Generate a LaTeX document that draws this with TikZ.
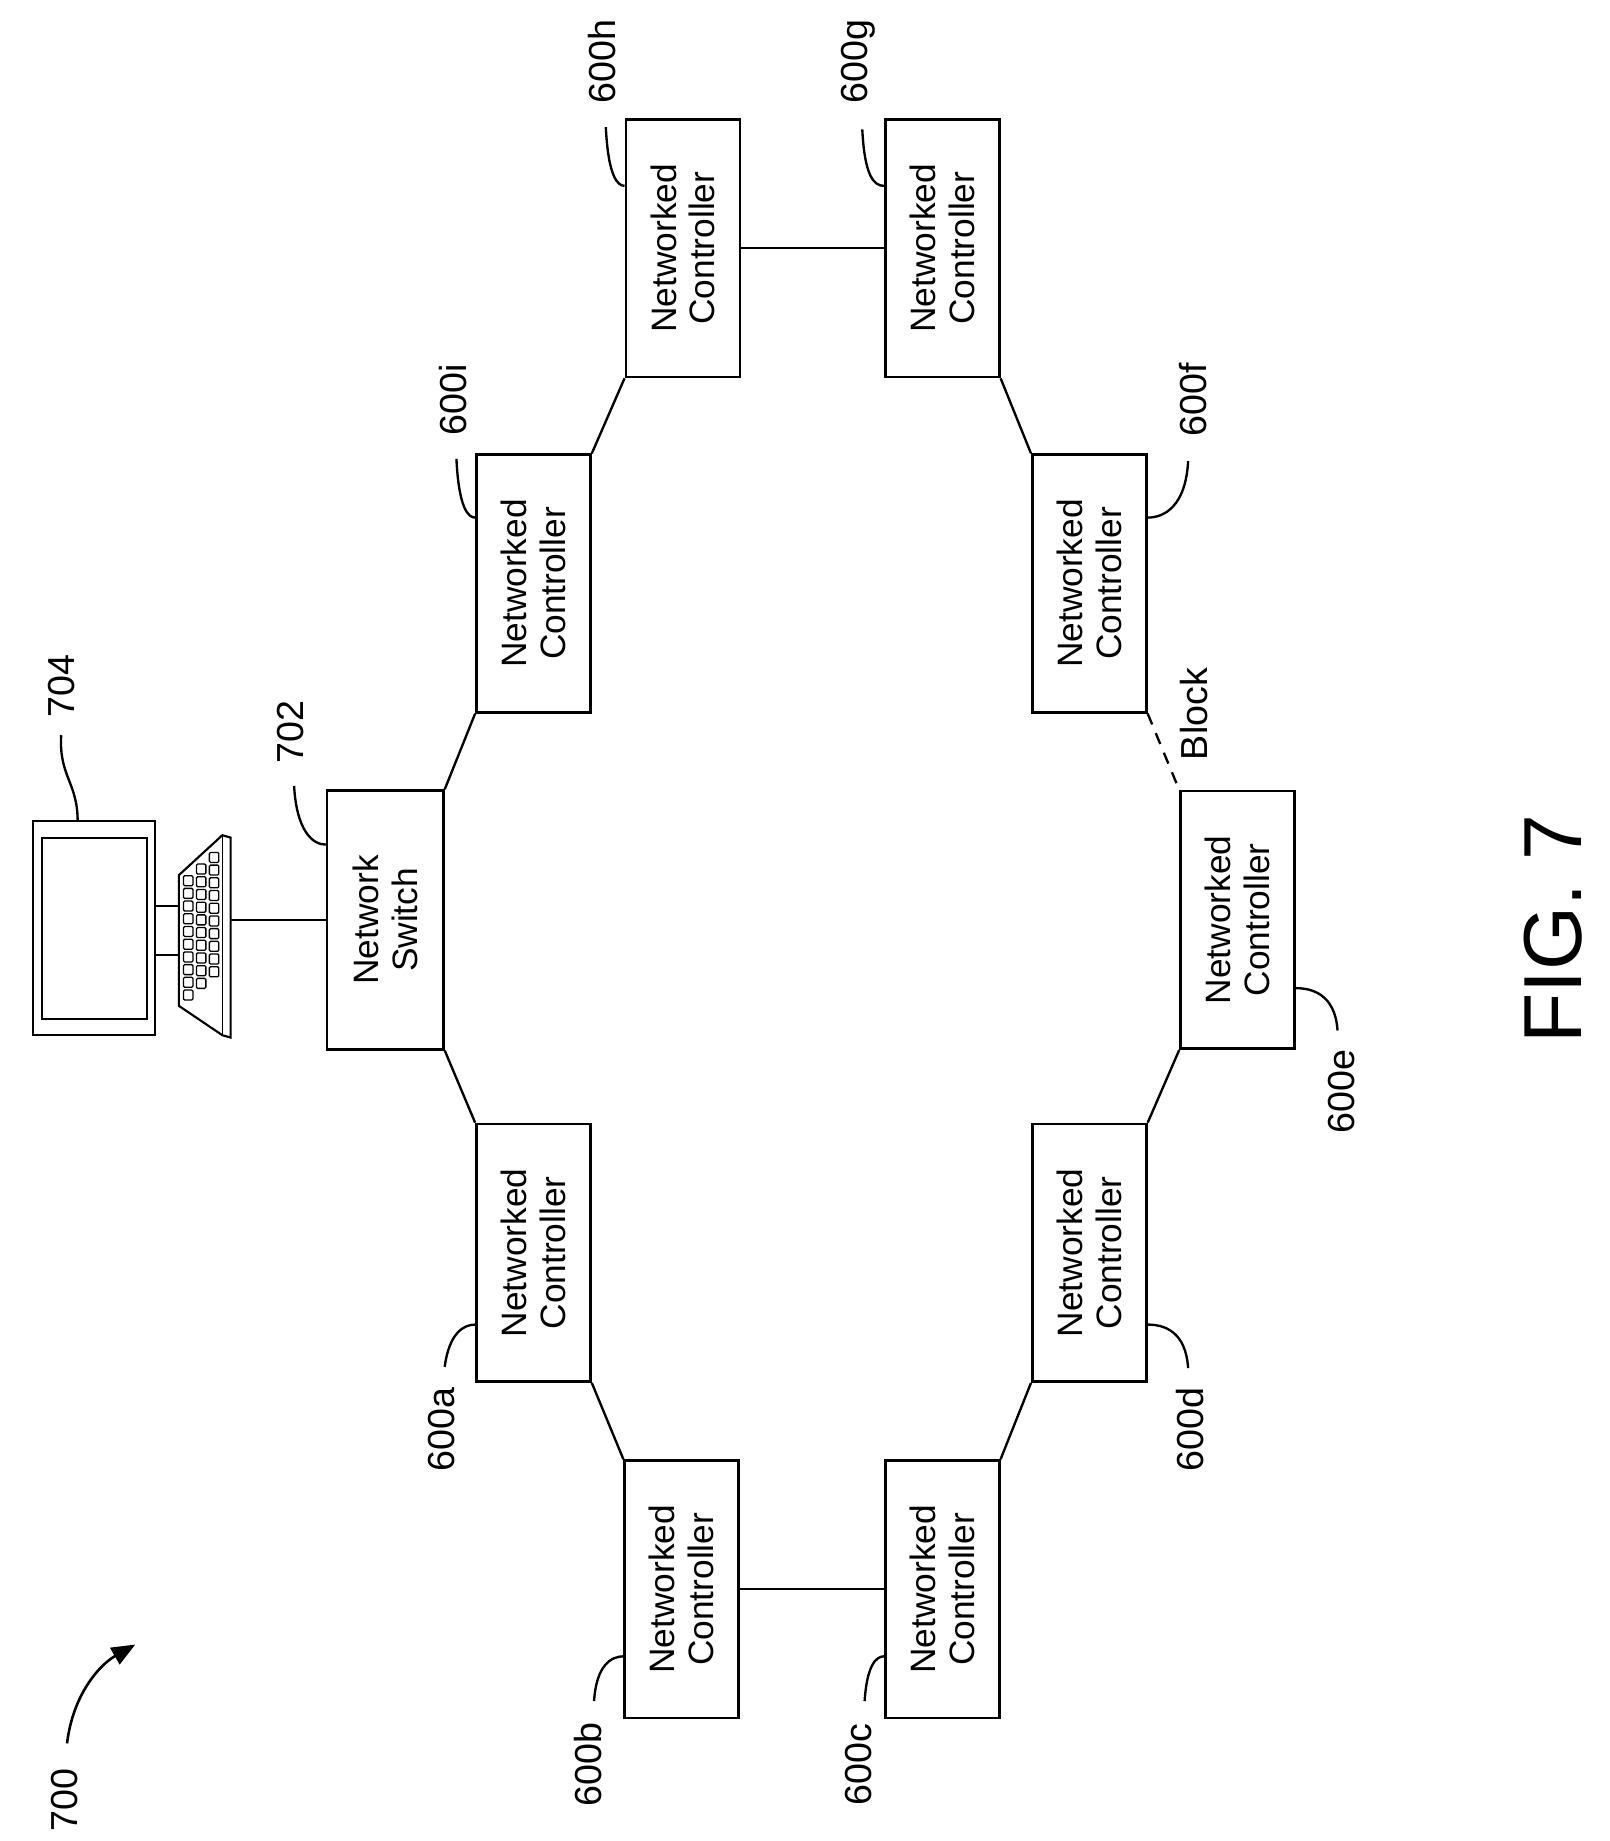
\documentclass[tikz,border=0pt]{standalone}
\usepackage{fontspec}
\setmainfont{Liberation Sans}
\usetikzlibrary{arrows.meta}
\begin{document}
\begin{tikzpicture}[x=1pt,y=-1pt,
  box/.style={draw,line width=2.2pt,minimum width=97pt,minimum height=219pt,inner sep=0pt},
  btxt/.style={rotate=90,font=\fontsize{30}{33}\selectfont,align=center},
  lbl/.style={rotate=90,font=\fontsize{32}{34}\selectfont,inner sep=1pt},
  ln/.style={line width=2pt},
  lead/.style={line width=2pt}]
\useasboundingbox (0,0) rectangle (1368,1565);
\newcommand{\nc}[3]{\node[box] (#1) at (#2,#3) {}; \node[btxt] at (#1) {Networked\\Controller};}
\node[box,minimum width=99pt,minimum height=220pt] (sw) at (327.5,782) {};
\node[btxt] at (sw) {Network\\Switch};
\nc{ci}{453.5}{496}
\nc{ch}{580.5}{211}
\nc{cg}{801}{211}
\nc{cf}{926}{496}
\nc{ce}{1052}{782}
\nc{cd}{926}{1065}
\nc{cc}{801}{1351}
\nc{cb}{579.5}{1351}
\nc{ca}{453.5}{1065}
\draw[ln] (sw.north east) -- (ci.south west);
\draw[ln] (ci.north east) -- (ch.south west);
\draw[ln] (ch.east) -- (cg.west);
\draw[ln] (cg.south east) -- (cf.north west);
\draw[ln,dash pattern=on 10pt off 8pt] (cf.south east) -- (ce.north west);
\draw[ln] (ce.south west) -- (cd.north east);
\draw[ln] (cd.south west) -- (cc.north east);
\draw[ln] (cc.west) -- (cb.east);
\draw[ln] (cb.north west) -- (ca.south east);
\draw[ln] (ca.north west) -- (sw.south east);
% labels
\node[lbl] (l8h) at (512,52) {600h};
\draw[lead] (515,108) .. controls (517,150) and (525,158) .. (ch.west|-0,158);
\node[lbl] (l8g) at (730,52) {600g};
\draw[lead] (733,110) .. controls (735,150) and (743,158) .. (cg.west|-0,158);
\node[lbl] (l8i) at (385,340) {600i};
\draw[lead] (388,390) .. controls (390,432) and (398,440) .. (ci.west|-0,440);
\node[lbl] (l8f) at (1014,340) {600f};
\draw[lead] (1010,392) .. controls (1008,430) and (990,440) .. (cf.east|-0,440);
\node[lbl] (l8e) at (1140,928) {600e};
\draw[lead] (1137,876) .. controls (1135,845) and (1115,840) .. (ce.east|-0,840);
\node[lbl] (l8d) at (1012,1215) {600d};
\draw[lead] (1010,1163) .. controls (1008,1132) and (990,1126) .. (cd.east|-0,1126);
\node[lbl] (l8c) at (730,1500) {600c};
\draw[lead] (735,1446) .. controls (737,1415) and (745,1408) .. (cc.west|-0,1408);
\node[lbl] (l8b) at (500,1500) {600b};
\draw[lead] (505,1446) .. controls (507,1415) and (520,1408) .. (cb.west|-0,1408);
\node[lbl] (l8a) at (375,1215) {600a};
\draw[lead] (378,1162) .. controls (382,1132) and (395,1126) .. (ca.west|-0,1126);
\node[lbl] (l702) at (247,622) {702};
\draw[lead] (250,668) .. controls (252,705) and (265,718) .. (sw.west|-0,718);
\node[lbl] (l704) at (52,583) {704};
\draw[lead] (52,625) .. controls (50,660) and (66,665) .. (66,698);
\node[lbl] (block) at (1015,607) {Block};
\node[lbl] (l700) at (55,1530) {700};
\draw[line width=2.2pt,-{Triangle[length=20pt,width=16pt]}] (57,1482) .. controls (62,1440) and (85,1415) .. (115,1398);
\node[rotate=90,font=\fontsize{70}{72}\selectfont] (fig) at (1320,790) {FIG. 7};
% computer
\draw[line width=1.8pt] (28,698) rectangle (132,880);
\draw[line width=1.8pt] (36,712) rectangle (125,866);
\draw[line width=1.5pt] (132,770) -- (152,770);
\draw[line width=1.5pt] (132,812) -- (152,812);
\draw[ln] (196,782) -- (sw.west);
\coordinate (k1) at (152,744); \coordinate (k2) at (189,710);
\coordinate (k3) at (189,880); \coordinate (k4) at (152,855);
\draw[line width=1.8pt] (k1) -- (k2) -- (196,712) -- (196,882) -- (k3) -- (k4) -- cycle;
\draw[line width=1.3pt] (k2) -- (k3);
\foreach \i in {0,...,9}{
  \pgfmathsetmacro{\ya}{748+\i*10.8}
  \foreach \j/\xa in {0/156,1/167,2/178}{
    \pgfmathsetmacro{\yy}{\ya-(\xa-152)*0.9+ \j*0}
    \draw[line width=1.1pt,rounded corners=1pt] (\xa,\yy) rectangle ++(8,8.5);
  }
}
\end{tikzpicture}
\end{document}
